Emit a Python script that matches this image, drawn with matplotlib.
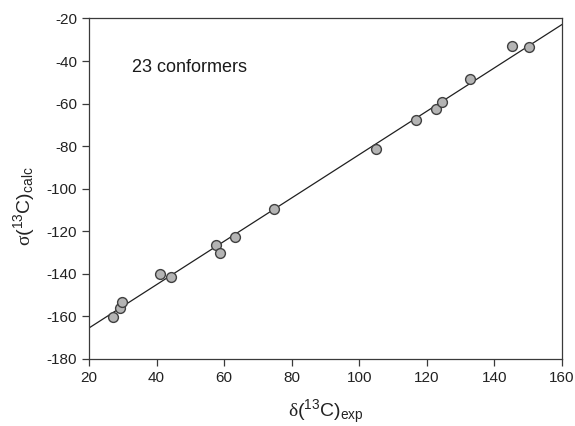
import numpy as np
import matplotlib
matplotlib.use("Agg")
import matplotlib.pyplot as plt

# =============================================================================
# DATA
# =============================================================================

delta_exp = [27.2, 29.3, 29.8, 41.1, 44.3, 57.6, 58.8, 63.2, 74.7,
             104.9, 116.9, 122.6, 124.5, 132.8, 145.1, 150.3]
sigma_calc = [-160.1, -155.9, -153.2, -139.9, -141.3, -126.4, -130.0, -122.9, -109.7,
              -81.2, -67.5, -62.5, -59.4, -48.4, -33.0, -33.5]

# fitted line: sigma = slope * delta + intercept
fit_slope = 1.0186
fit_intercept = -185.8

x_ticks = [20, 40, 60, 80, 100, 120, 140, 160]
y_ticks = [-180, -160, -140, -120, -100, -80, -60, -40, -20]

# =============================================================================
# STYLE
# =============================================================================

plt.rcParams['font.family'] = ['Liberation Sans', 'DejaVu Sans']
plt.rcParams['axes.unicode_minus'] = False
plt.rcParams['mathtext.fontset'] = 'custom'
plt.rcParams['mathtext.rm'] = 'Liberation Sans'
plt.rcParams['mathtext.sf'] = 'Liberation Serif'
plt.rcParams['mathtext.it'] = 'Liberation Sans:italic'

edge = '#3a3a3a'

fig = plt.figure(figsize=(5.75, 4.26), dpi=100)
ax = fig.add_axes([0.1548, 0.1573, 0.8226, 0.7993])

line_x = np.array([20, 160])
ax.plot(line_x, fit_slope * line_x + fit_intercept, color='#202020', lw=0.9, zorder=2)

ax.scatter(delta_exp, sigma_calc, s=50, facecolor='#b4b4b4', edgecolor='#404040',
           linewidth=1.0, zorder=3)

ax.set_xlim(20, 160)
ax.set_ylim(-180, -20)
ax.set_xticks(x_ticks)
ax.set_yticks(y_ticks)
ax.tick_params(direction='out', length=5, width=0.9, color=edge, labelsize=11,
               labelcolor='#222222', top=False, right=False)
for sp in ax.spines.values():
    sp.set_color(edge)
    sp.set_linewidth(0.9)

ax.text(32.6, -43.2, '23 conformers', fontsize=13, color='#1a1a1a', va='center')

ax.set_xlabel(r'$\mathsf{\delta}\mathrm{(^{13}C)_{exp}}$', fontsize=14, color='#222222')
ax.set_ylabel(r'$\mathsf{\sigma}\mathrm{(^{13}C)_{calc}}$', fontsize=14, color='#222222')
ax.xaxis.set_label_coords(0.5, -0.115)
ax.yaxis.set_label_coords(-0.11, 0.45)

fig.savefig('out.png', dpi=100)
